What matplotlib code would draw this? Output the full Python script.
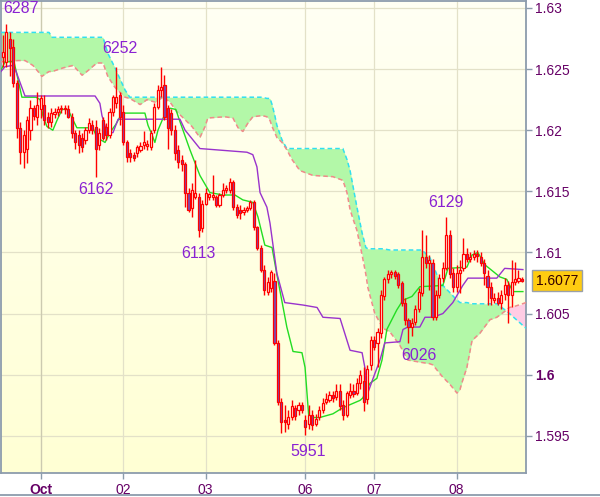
import matplotlib.pyplot as plt
import numpy as np
from matplotlib.colors import LinearSegmentedColormap
from matplotlib.lines import Line2D

plt.rcParams['font.family'] = ['Liberation Sans', 'DejaVu Sans']

# hourly bars, Sep 30 .. Oct 8
opens = [1.6260, 1.6256, 1.6275, 1.6268, 1.6239, 1.6202, 1.6182, 1.6185, 1.6200, 1.6218,
         1.6211, 1.6217, 1.6221, 1.6211, 1.6207, 1.6213, 1.6215, 1.6217, 1.6218, 1.6217,
         1.6211, 1.6198, 1.6196, 1.6194, 1.6192, 1.6200, 1.6204, 1.6203, 1.6188, 1.6208,
         1.6203, 1.6196, 1.6215, 1.6222, 1.6229, 1.6215, 1.6190, 1.6181, 1.6180, 1.6181,
         1.6184, 1.6188, 1.6187, 1.6186, 1.6200, 1.6219, 1.6233, 1.6237, 1.6218, 1.6214,
         1.6200, 1.6184, 1.6176, 1.6172, 1.6149, 1.6136, 1.6145, 1.6145, 1.6120, 1.6140,
         1.6145, 1.6145, 1.6145, 1.6139, 1.6147, 1.6151, 1.6151, 1.6158, 1.6137, 1.6135,
         1.6133, 1.6135, 1.6136, 1.6141, 1.6121, 1.6104, 1.6086, 1.6068, 1.6071, 1.6077,
         1.6026, 1.5978, 1.5963, 1.5960, 1.5965, 1.5973, 1.5971, 1.5975, 1.5963, 1.5960,
         1.5967, 1.5960, 1.5965, 1.5971, 1.5978, 1.5979, 1.5983, 1.5982, 1.5987, 1.5975,
         1.5967, 1.5983, 1.5987, 1.5985, 1.5993, 1.5995, 1.5980, 1.6008, 1.6028, 1.6026,
         1.6034, 1.6064, 1.6078, 1.6082, 1.6084, 1.6082, 1.6075, 1.6059, 1.6045, 1.6039,
         1.6043, 1.6054, 1.6067, 1.6096, 1.6091, 1.6091, 1.6047, 1.6065, 1.6079, 1.6087,
         1.6114, 1.6083, 1.6072, 1.6083, 1.6087, 1.6099, 1.6095, 1.6096, 1.6099, 1.6096,
         1.6091, 1.6081, 1.6072, 1.6061, 1.6063, 1.6059, 1.6066, 1.6073, 1.6065, 1.6076,
         1.6077, 1.6078]
highs = [1.6278, 1.6287, 1.6280, 1.6275, 1.6241, 1.6207, 1.6200, 1.6212, 1.6225, 1.6221,
         1.6231, 1.6229, 1.6229, 1.6215, 1.6218, 1.6218, 1.6220, 1.6221, 1.6221, 1.6221,
         1.6214, 1.6200, 1.6200, 1.6198, 1.6203, 1.6210, 1.6208, 1.6208, 1.6202, 1.6211,
         1.6206, 1.6218, 1.6229, 1.6252, 1.6231, 1.6221, 1.6192, 1.6185, 1.6182, 1.6188,
         1.6190, 1.6199, 1.6192, 1.6200, 1.6222, 1.6237, 1.6252, 1.6245, 1.6221, 1.6217,
         1.6204, 1.6188, 1.6180, 1.6174, 1.6153, 1.6157, 1.6176, 1.6149, 1.6143, 1.6153,
         1.6149, 1.6163, 1.6147, 1.6149, 1.6157, 1.6155, 1.6161, 1.6159, 1.6140, 1.6139,
         1.6137, 1.6138, 1.6143, 1.6143, 1.6122, 1.6106, 1.6090, 1.6080, 1.6086, 1.6083,
         1.6028, 1.5981, 1.5975, 1.5971, 1.5979, 1.5975, 1.5978, 1.5978, 1.5967, 1.5975,
         1.5971, 1.5968, 1.5974, 1.5981, 1.5985, 1.5987, 1.5987, 1.5992, 1.5992, 1.5979,
         1.5987, 1.5993, 1.5992, 1.5997, 1.6004, 1.6006, 1.6008, 1.6032, 1.6032, 1.6038,
         1.6069, 1.6080, 1.6086, 1.6086, 1.6086, 1.6084, 1.6077, 1.6063, 1.6046, 1.6046,
         1.6057, 1.6071, 1.6118, 1.6114, 1.6098, 1.6095, 1.6069, 1.6082, 1.6092, 1.6129,
         1.6118, 1.6087, 1.6090, 1.6094, 1.6112, 1.6104, 1.6100, 1.6102, 1.6102, 1.6100,
         1.6095, 1.6086, 1.6076, 1.6067, 1.6068, 1.6069, 1.6079, 1.6077, 1.6094, 1.6092,
         1.6086, 1.6080]
lows = [1.6252, 1.6252, 1.6244, 1.6235, 1.6194, 1.6172, 1.6169, 1.6173, 1.6192, 1.6208,
        1.6204, 1.6210, 1.6204, 1.6202, 1.6203, 1.6210, 1.6212, 1.6214, 1.6213, 1.6210,
        1.6194, 1.6185, 1.6181, 1.6182, 1.6189, 1.6198, 1.6197, 1.6162, 1.6184, 1.6192,
        1.6192, 1.6194, 1.6212, 1.6218, 1.6204, 1.6188, 1.6174, 1.6174, 1.6175, 1.6178,
        1.6182, 1.6185, 1.6184, 1.6184, 1.6198, 1.6217, 1.6227, 1.6208, 1.6185, 1.6196,
        1.6176, 1.6169, 1.6167, 1.6137, 1.6133, 1.6129, 1.6144, 1.6113, 1.6117, 1.6139,
        1.6143, 1.6143, 1.6137, 1.6137, 1.6145, 1.6149, 1.6149, 1.6135, 1.6128, 1.6127,
        1.6131, 1.6133, 1.6135, 1.6118, 1.6102, 1.6084, 1.6065, 1.6065, 1.6068, 1.6024,
        1.5975, 1.5952, 1.5953, 1.5956, 1.5963, 1.5963, 1.5967, 1.5969, 1.5951, 1.5956,
        1.5955, 1.5958, 1.5963, 1.5969, 1.5976, 1.5978, 1.5978, 1.5979, 1.5971, 1.5963,
        1.5965, 1.5981, 1.5982, 1.5983, 1.5988, 1.5970, 1.5976, 1.6004, 1.6020, 1.6006,
        1.6030, 1.6061, 1.6075, 1.6079, 1.6078, 1.6071, 1.6056, 1.6041, 1.6026, 1.6032,
        1.6041, 1.6051, 1.6064, 1.6087, 1.6069, 1.6045, 1.6045, 1.6063, 1.6076, 1.6086,
        1.6079, 1.6068, 1.6068, 1.6067, 1.6085, 1.6092, 1.6092, 1.6094, 1.6092, 1.6089,
        1.6073, 1.6057, 1.6057, 1.6059, 1.6057, 1.6054, 1.6061, 1.6042, 1.6055, 1.6073,
        1.6075, 1.6076]
closes = [1.6264, 1.6280, 1.6267, 1.6239, 1.6202, 1.6182, 1.6196, 1.6208, 1.6218, 1.6212,
          1.6221, 1.6226, 1.6208, 1.6207, 1.6214, 1.6215, 1.6217, 1.6218, 1.6217, 1.6211,
          1.6198, 1.6190, 1.6188, 1.6186, 1.6200, 1.6206, 1.6200, 1.6185, 1.6198, 1.6194,
          1.6196, 1.6215, 1.6227, 1.6227, 1.6211, 1.6190, 1.6178, 1.6178, 1.6177, 1.6186,
          1.6187, 1.6190, 1.6189, 1.6198, 1.6219, 1.6233, 1.6235, 1.6211, 1.6202, 1.6200,
          1.6181, 1.6174, 1.6172, 1.6149, 1.6135, 1.6151, 1.6149, 1.6118, 1.6140, 1.6149,
          1.6148, 1.6147, 1.6139, 1.6147, 1.6151, 1.6153, 1.6158, 1.6137, 1.6131, 1.6132,
          1.6135, 1.6136, 1.6141, 1.6121, 1.6104, 1.6086, 1.6069, 1.6076, 1.6084, 1.6026,
          1.5978, 1.5961, 1.5961, 1.5965, 1.5974, 1.5966, 1.5975, 1.5971, 1.5957, 1.5967,
          1.5959, 1.5964, 1.5971, 1.5977, 1.5980, 1.5983, 1.5981, 1.5987, 1.5974, 1.5967,
          1.5985, 1.5987, 1.5984, 1.5993, 1.6000, 1.5978, 1.6005, 1.6028, 1.6023, 1.6035,
          1.6065, 1.6078, 1.6082, 1.6084, 1.6081, 1.6073, 1.6059, 1.6045, 1.6039, 1.6042,
          1.6054, 1.6068, 1.6096, 1.6091, 1.6094, 1.6047, 1.6065, 1.6079, 1.6087, 1.6114,
          1.6082, 1.6072, 1.6083, 1.6086, 1.6099, 1.6095, 1.6096, 1.6099, 1.6097, 1.6091,
          1.6083, 1.6072, 1.6063, 1.6063, 1.6059, 1.6065, 1.6073, 1.6065, 1.6076, 1.6078,
          1.6079, 1.6077]

# ichimoku lines (bar position, price)
tenkan_x = [-0.6, 0.6, 3.2, 4.1, 5.5, 9.6, 10.8, 11.6, 12.8, 14.5, 15.7, 17.2, 18.9, 20.1,
            21.5, 26.2, 27.3, 29.7, 31.1, 32.9, 34.6, 41.3, 42.2, 43.4, 44.2, 45.1, 46.6,
            48.6, 50.3, 51.5, 54.4, 57.3, 60.2, 64.0, 67.5, 69.8, 72.7, 74.2, 76.2, 78.3,
            79.7, 82.6, 84.4, 87.0, 87.9, 89.0, 92.2, 96.0, 98.9, 103.9, 104.7, 106.8,
            108.8, 110.3, 111.7, 114.6, 116.4, 119.0, 121.3, 128.0, 129.5, 135.0, 136.5,
            138.2, 140.2, 144.6, 146.6, 148.4, 151.3]
tenkan = [1.6249, 1.6256, 1.6256, 1.6245, 1.6227, 1.6227, 1.6225, 1.6212, 1.6203, 1.6200,
          1.6208, 1.6217, 1.6217, 1.6210, 1.6202, 1.6202, 1.6194, 1.6190, 1.6198, 1.6205,
          1.6214, 1.6214, 1.6204, 1.6196, 1.6190, 1.6200, 1.6210, 1.6218, 1.6217, 1.6207,
          1.6184, 1.6163, 1.6149, 1.6147, 1.6147, 1.6143, 1.6141, 1.6129, 1.6106, 1.6104,
          1.6082, 1.6039, 1.6019, 1.6018, 1.6006, 1.5965, 1.5965, 1.5968, 1.5973, 1.5979,
          1.5981, 1.5993, 1.5997, 1.6012, 1.6037, 1.6053, 1.6061, 1.6064, 1.6072, 1.6073,
          1.6087, 1.6088, 1.6098, 1.6100, 1.6090, 1.6080, 1.6078, 1.6068, 1.6068]

kijun_x = [-0.6, 0.6, 2.9, 3.8, 6.4, 26.8, 28.2, 28.8, 30.3, 32.0, 33.5, 51.5, 53.0, 55.3,
           57.3, 71.0, 72.7, 73.9, 74.8, 76.8, 77.7, 79.7, 82.0, 87.3, 91.4, 93.1, 98.1,
           101.0, 104.5, 105.3, 105.9, 107.7, 109.7, 111.1, 115.5, 116.4, 117.8, 121.3,
           122.8, 125.1, 128.0, 130.9, 133.8, 135.3, 143.7, 146.0, 151.3]
kijun = [1.6248, 1.6252, 1.6253, 1.6248, 1.6228, 1.6228, 1.6222, 1.6212, 1.6198, 1.6198,
         1.6209, 1.6209, 1.6200, 1.6192, 1.6185, 1.6182, 1.6180, 1.6170, 1.6149, 1.6137,
         1.6124, 1.6083, 1.6059, 1.6057, 1.6055, 1.6047, 1.6046, 1.6020, 1.6018, 1.6006,
         1.5983, 1.5997, 1.6012, 1.6026, 1.6027, 1.6037, 1.6039, 1.6039, 1.6047, 1.6047,
         1.6050, 1.6059, 1.6073, 1.6079, 1.6079, 1.6087, 1.6086]

cloud_x = [-0.6, 4.4, 6.4, 8.7, 10.2, 11.3, 12.8, 13.4, 14.3, 17.5, 20.4, 23.0, 24.4, 27.3,
           29.1, 30.5, 32.6, 35.5, 36.9, 39.9, 41.9, 44.2, 46.6, 48.6, 50.6, 52.1, 55.0,
           57.3, 58.8, 59.6, 64.6, 66.9, 68.4, 69.8, 71.3, 72.7, 75.4, 76.8, 77.7, 78.3,
           79.1, 79.7, 81.2, 82.6, 84.1, 86.4, 90.2, 96.0, 98.9, 100.1, 101.0, 101.8,
           103.0, 104.5, 105.6, 106.2, 108.2, 110.6, 112.6, 115.5, 117.8, 121.9, 124.2,
           125.1, 127.1, 128.0, 130.1, 132.1, 133.0, 133.5, 135.0, 136.5, 138.8, 141.7,
           143.7, 146.1, 147.4, 149.0, 152.2]
span_a = [1.6280, 1.6280, 1.6280, 1.6280, 1.6280, 1.6280, 1.6280, 1.6280, 1.6276, 1.6276,
          1.6276, 1.6276, 1.6276, 1.6276, 1.6276, 1.6263, 1.6251, 1.6233, 1.6227, 1.6227,
          1.6227, 1.6227, 1.6227, 1.6227, 1.6227, 1.6227, 1.6227, 1.6227, 1.6227, 1.6227,
          1.6227, 1.6227, 1.6227, 1.6227, 1.6227, 1.6227, 1.6227, 1.6226, 1.6226, 1.6221,
          1.6212, 1.6204, 1.6192, 1.6185, 1.6185, 1.6185, 1.6185, 1.6185, 1.6185, 1.6176,
          1.6167, 1.6155, 1.6137, 1.6116, 1.6104, 1.6103, 1.6103, 1.6103, 1.6102, 1.6102,
          1.6102, 1.6102, 1.6096, 1.6090, 1.6076, 1.6073, 1.6067, 1.6061, 1.6059, 1.6059,
          1.6059, 1.6058, 1.6058, 1.6058, 1.6058, 1.6053, 1.6050, 1.6046, 1.6038]
span_b = [1.6256, 1.6257, 1.6257, 1.6253, 1.6248, 1.6244, 1.6247, 1.6248, 1.6248, 1.6251,
          1.6253, 1.6245, 1.6248, 1.6255, 1.6255, 1.6244, 1.6235, 1.6227, 1.6226, 1.6221,
          1.6225, 1.6223, 1.6227, 1.6223, 1.6215, 1.6211, 1.6203, 1.6194, 1.6203, 1.6210,
          1.6211, 1.6210, 1.6202, 1.6199, 1.6206, 1.6211, 1.6212, 1.6211, 1.6208, 1.6203,
          1.6198, 1.6194, 1.6190, 1.6184, 1.6176, 1.6167, 1.6163, 1.6162, 1.6159, 1.6149,
          1.6135, 1.6128, 1.6118, 1.6098, 1.6082, 1.6071, 1.6050, 1.6038, 1.6035, 1.6024,
          1.6012, 1.6010, 1.6009, 1.6008, 1.6001, 1.5998, 1.5992, 1.5985, 1.5988, 1.5993,
          1.6006, 1.6028, 1.6034, 1.6045, 1.6047, 1.6052, 1.6055, 1.6056, 1.6059]

day_pos = [11, 35, 59, 88, 108, 132]
day_labels = ['Oct', '02', '03', '06', '07', '08']
price_ticks = [1.595, 1.600, 1.605, 1.610, 1.615, 1.620, 1.625, 1.630]
price_labels = ['1.595', '1.6', '1.605', '1.61', '1.615', '1.62', '1.625', '1.63']

# high / low marks
mark_text = ['6287', '6252', '6162', '6113', '5951', '6129', '6026']
mark_x = [5.1, 34.0, 27.1, 57.0, 88.7, 128.9, 121.0]
mark_y = [1.62993, 1.62672, 1.61511, 1.60995, 1.59368, 1.61405, 1.60161]

fig = plt.figure(figsize=(6, 4.97), dpi=100)
ax = fig.add_axes([1 / 600, 24 / 497, 525 / 600, 472 / 497])

bg = LinearSegmentedColormap.from_list('bg', ['#ffffd4', '#fffff4'])
ax.imshow(np.linspace(0, 1, 256).reshape(-1, 1), cmap=bg, extent=[0, 1, 0, 1],
          transform=ax.transAxes, aspect='auto', origin='lower', zorder=0)

for p in price_ticks:
    ax.axhline(p, color='#e3e1c8', lw=0.9, zorder=1)
for d in day_pos:
    ax.axvline(d, color='#e3e1c8', lw=0.9, zorder=1)
ax.axvline(day_pos[0], color='#cccab0', lw=0.9, zorder=1)

# cloud
cx = np.array(cloud_x)
sa = np.array(span_a)
sb = np.array(span_b)
ax.fill_between(cx, sa, sb, where=sa >= sb, interpolate=True, color='#b3f8a8', lw=0, zorder=2)
ax.fill_between(cx, sa, sb, where=sa < sb, interpolate=True, color='#ffcce4', lw=0, zorder=2)
ax.plot(cx, sa, color='#30e0f0', lw=1.1, ls=(0, (3, 2)), zorder=3)
ax.plot(cx, sb, color='#f08a8a', lw=1.1, ls=(0, (3, 2)), zorder=3)

ax.plot(tenkan_x, tenkan, color='#22dd22', lw=1.0, zorder=3.5)
ax.plot(kijun_x, kijun, color='#9933cc', lw=1.0, zorder=3.5)

# candles
o = np.array(opens)
h = np.array(highs)
l = np.array(lows)
c = np.array(closes)
idx = np.arange(len(o))
up = c >= o
lo = np.minimum(o, c)
ht = np.maximum(np.abs(c - o), 0.00004)
ax.vlines(idx, l, h, color='#ff0000', lw=1.0, zorder=4)
ax.bar(idx[up], ht[up], bottom=lo[up], width=0.62, color='#fffff2',
       edgecolor='#ff0000', lw=0.9, zorder=5)
ax.bar(idx[~up], ht[~up], bottom=lo[~up], width=0.62, color='#7a4bb4',
       edgecolor='#ff0000', lw=0.9, zorder=5)

for t, x, y in zip(mark_text, mark_x, mark_y):
    ax.text(x, y, t, ha='center', va='center', fontsize=11.5, color='#8a22d2', zorder=7)

ax.set_xlim(-0.58, 152.2)
ax.set_ylim(1.59196, 1.63057)

ax.yaxis.tick_right()
ax.set_yticks(price_ticks)
ax.set_yticklabels(price_labels)
ax.set_xticks(day_pos)
ax.set_xticklabels(day_labels)
ax.tick_params(axis='both', colors='#8c9cac', labelcolor='#660066', length=4.5,
               width=1, labelsize=10, direction='out')
ax.tick_params(axis='y', pad=2)
ax.tick_params(axis='x', pad=3)
for t in ax.get_yticklabels() + ax.get_xticklabels():
    if t.get_text() in ('1.6', 'Oct'):
        t.set_fontweight('bold')
for s in ax.spines.values():
    s.set_color('#8c9cac')
    s.set_linewidth(1.3)

ax.annotate(f'{closes[-1]:.4f}', xy=(1, closes[-1]), xycoords=('axes fraction', 'data'),
            xytext=(7, 0), textcoords='offset points', ha='left', va='center',
            fontsize=10, color='#330000', annotation_clip=False,
            bbox=dict(boxstyle='square,pad=0.25', fc='#ffcc11', ec='#9aa0a8', lw=1))

fig.add_artist(Line2D([0, 1], [2 / 497, 2 / 497], color='#8c9cac', lw=1.3))

fig.savefig('out.png', dpi=100)
